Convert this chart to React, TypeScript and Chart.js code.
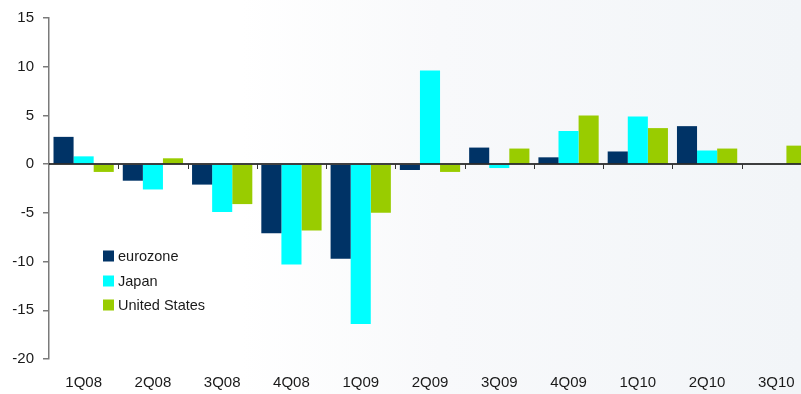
import React, { useEffect, useRef } from "react";
import { Chart, registerables } from "chart.js";

Chart.register(...registerables);

// Quarterly GDP growth by economy
const quarters = ["1Q08", "2Q08", "3Q08", "4Q08", "1Q09", "2Q09", "3Q09", "4Q09", "1Q10", "2Q10", "3Q10"];
const eurozone = [2.8, -1.7, -2.1, -7.1, -9.7, -0.6, 1.7, 0.7, 1.3, 3.9, null];
const japan = [0.8, -2.6, -4.9, -10.3, -16.4, 9.6, -0.4, 3.4, 4.9, 1.4, null];
const unitedStates = [-0.8, 0.6, -4.1, -6.8, -5.0, -0.8, 1.6, 5.0, 3.7, 1.6, 1.9];

const seriesNames = ["eurozone", "Japan", "United States"];
const seriesColors = ["#003366", "#00FFFF", "#99CC00"];

const FONT = "'Liberation Sans', Arial, sans-serif";
const TEXT = "#1a1a1a";

// Zero baseline with small marks between quarters
const zeroLinePlugin = {
  id: "zeroLine",
  afterDatasetsDraw(chart: any) {
    const { ctx, chartArea, scales } = chart;
    const y = Math.round(scales.y.getPixelForValue(0));
    const x = scales.x;
    ctx.save();
    ctx.strokeStyle = "#000";
    ctx.lineWidth = 1.5;
    ctx.beginPath();
    ctx.moveTo(chartArea.left, y);
    ctx.lineTo(chartArea.right, y);
    ctx.stroke();
    ctx.strokeStyle = "#333";
    ctx.lineWidth = 1;
    for (let i = 0; i < quarters.length - 1; i++) {
      const bx = Math.round((x.getPixelForValue(i) + x.getPixelForValue(i + 1)) / 2) + 0.5;
      ctx.beginPath();
      ctx.moveTo(bx, y);
      ctx.lineTo(bx, y + 5);
      ctx.stroke();
    }
    ctx.restore();
  },
};

// Legend box placed inside the plot, lower left
const insetLegendPlugin = {
  id: "insetLegend",
  afterDraw(chart: any) {
    const { ctx } = chart;
    const x0 = 103;
    const rows = [256, 281, 305];
    ctx.save();
    ctx.font = `14.5px ${FONT}`;
    ctx.textBaseline = "middle";
    chart.data.datasets.forEach((ds: any, i: number) => {
      ctx.fillStyle = ds.backgroundColor;
      ctx.fillRect(x0, rows[i] - 5.5, 11, 11);
      ctx.fillStyle = TEXT;
      ctx.fillText(ds.label, x0 + 15, rows[i] + 0.5);
    });
    ctx.restore();
  },
};

export default function App() {
  const canvasRef = useRef<HTMLCanvasElement | null>(null);

  useEffect(() => {
    if (!canvasRef.current) return;
    const chart = new Chart(canvasRef.current, {
      type: "bar",
      data: {
        labels: quarters,
        datasets: [eurozone, japan, unitedStates].map((values, i) => ({
          label: seriesNames[i],
          data: values,
          backgroundColor: seriesColors[i],
          borderWidth: 0,
          barPercentage: 1,
          categoryPercentage: 0.87,
        })),
      },
      options: {
        responsive: false,
        animation: false,
        layout: { padding: { top: 16, right: 1, bottom: 0, left: 0 } },
        plugins: {
          legend: { display: false },
          tooltip: { enabled: false },
          title: { display: false },
        },
        scales: {
          x: {
            grid: { display: false },
            border: { display: false },
            ticks: {
              color: TEXT,
              font: { family: FONT, size: 15 },
              padding: 7,
              maxRotation: 0,
              autoSkip: false,
            },
            afterFit: (scale: any) => {
              scale.height = 35;
            },
          },
          y: {
            min: -20,
            max: 15,
            ticks: {
              stepSize: 5,
              color: TEXT,
              font: { family: FONT, size: 15 },
              padding: 9,
            },
            grid: {
              drawOnChartArea: false,
              drawTicks: true,
              tickLength: 6,
              color: "#7a7a7a",
              lineWidth: 1.5,
            },
            border: { display: true, color: "#7a7a7a", width: 1.5 },
            afterFit: (scale: any) => {
              scale.width = 49;
            },
          },
        },
      },
      plugins: [zeroLinePlugin, insetLegendPlugin],
    });
    return () => chart.destroy();
  }, []);

  return (
    <div
      style={{
        position: "fixed",
        left: 0,
        top: 0,
        width: 801,
        height: 394,
        overflow: "hidden",
        background: "linear-gradient(to right, #ffffff 0%, #ffffff 30%, #f8f9fb 55%, #f2f5f8 100%)",
      }}
    >
      <canvas ref={canvasRef} width={812} height={394} style={{ display: "block" }} />
    </div>
  );
}
